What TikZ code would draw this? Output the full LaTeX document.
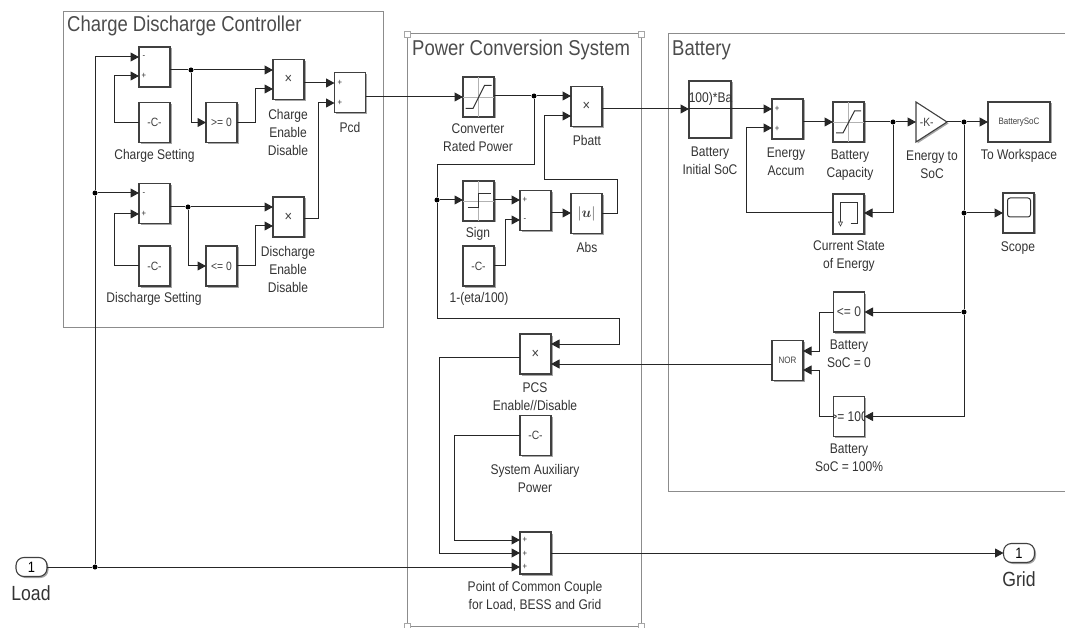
\documentclass[tikz,border=0pt]{standalone}
\usepackage{amsmath}
\usepackage{amssymb}
\usepackage{fontspec}
\setmainfont[FakeStretch=0.86]{Liberation Sans}
\usepackage{tikz}
\usetikzlibrary{arrows.meta,shadows,shapes.geometric}

\tikzset{
  blk/.style={draw=black!75, fill=white, line width=1.1pt, minimum width=31pt, minimum height=40pt, inner sep=0pt, outer sep=0pt, font=\fontsize{12}{14}\selectfont, text=black!75, drop shadow={shadow xshift=1.5pt, shadow yshift=-1.5pt, fill=black, opacity=0.35}},
  tri/.style={blk, isosceles triangle, isosceles triangle stretches, shape border rotate=0, minimum width=40pt, minimum height=31pt},
  grp/.style={draw=black!45, line width=1pt},
  grptitle/.style={anchor=west, inner sep=0pt, text=black!70, font=\fontsize{21.5}{24}\selectfont},
  lbl/.style={align=center, inner sep=0pt, text=black!80, font=\fontsize{14}{18}\selectfont},
  sgn/.style={inner sep=0pt, text=black!80, font=\fontsize{9}{10}\selectfont},
  wire/.style={draw=black!85, line width=1pt},
  sig/.style={wire, -{Triangle[length=8.5pt,width=9pt]}},
  dot/.style={fill=black, circle, inner sep=0pt, minimum size=5pt},
  port/.style={draw=black!75, fill=white, line width=1.1pt, rounded corners=8pt, minimum width=31pt, minimum height=19pt, inner sep=0pt, outer sep=0pt, font=\fontsize{15}{16}\selectfont, drop shadow={shadow xshift=1.5pt, shadow yshift=-1.5pt, fill=black, opacity=0.35}},
  handle/.style={draw=black!35, fill=white, minimum size=6pt, inner sep=0pt},
  icon/.style={draw=black!80, line width=1pt},
  cross/.style={draw=black!30, line width=0.8pt}
}

\begin{document}
\begin{tikzpicture}[x=1pt, y=-1pt]
\useasboundingbox (0,0) rectangle (1065,628);

% subsystem frames
\draw[grp] (63,12) rectangle (383,327);
\draw[grp] (407,34) rectangle (641,626);
\draw[grp] (1065,34) -- (668,34) -- (668,491) -- (1065,491);
\node[handle] at (407,34) (h1) {};
\node[handle] at (641,34) (h2) {};
\node[handle] at (407,626) (h3) {};
\node[handle] at (641,626) (h4) {};
\node[grptitle] at (67,26) (t1) {Charge Discharge Controller};
\node[grptitle] at (412,50) (t2) {Power Conversion System};
\node[grptitle] at (672,50) (t3) {Battery};

% charge discharge controller
\node[blk] at (154.5,67) (sub1) {};
\node[blk] at (154.5,122.5) (cst1) {-C-};
\node[blk] at (221.5,122.5) (ge0) {>= 0};
\node[blk, font=\fontsize{15}{16}\selectfont] at (288.5,79.5) (prod1) {×};
\node[blk] at (154.5,203.5) (sub2) {};
\node[blk] at (154.5,266) (cst2) {-C-};
\node[blk] at (221.5,266) (le0) {<= 0};
\node[blk, font=\fontsize{15}{16}\selectfont] at (288.5,217) (prod2) {×};
\node[blk] at (350,92.5) (pcd) {};

\node[sgn] at (144,57) (s1) {-};
\node[sgn] at (144,76) (s2) {+};
\node[sgn] at (144,194) (s3) {-};
\node[sgn] at (144,214) (s4) {+};
\node[sgn] at (340,83) (s5) {+};
\node[sgn] at (340,103) (s6) {+};

\node[lbl] at (154.5,156) (lcs) {Charge Setting};
\node[lbl] at (288,132) (lce) {Charge\\Enable\\Disable};
\node[lbl] at (350,127) (lpcd) {Pcd};
\node[lbl] at (288,269) (lde) {Discharge\\Enable\\Disable};
\node[lbl] at (154,299) (lds) {Discharge Setting};

% power conversion system
\node[blk] at (478.5,97) (sat1) {};
\draw[cross] (sat1.north) -- (sat1.south);
\draw[cross] (sat1.west) -- (sat1.east);
\draw[icon] (465.5,108.5) -- (473,108.5) -- (484.5,85.5) -- (491.5,85.5);
\node[blk, font=\fontsize{15}{16}\selectfont] at (586.5,106.5) (pbatt) {×};
\node[blk] at (478.5,201) (sign) {};
\draw[cross] (sign.north) -- (sign.south);
\draw[cross] (sign.west) -- (sign.east);
\draw[icon] (467.5,208) -- (478.5,208) -- (478.5,194) -- (490.5,194);
\node[blk] at (535.5,210.5) (sum) {};
\node[blk, font=\fontsize{15}{16}\selectfont] at (586.5,213.5) (abs) {$|\boldsymbol{u}|$};
\node[blk] at (478.5,266) (cst3) {-C-};
\node[blk, font=\fontsize{15}{16}\selectfont] at (535.5,354) (pcs) {×};
\node[blk] at (535.5,435.5) (cst4) {-C-};
\node[blk, minimum height=42pt] at (535.5,553) (pcc) {};

\node[sgn] at (525,200) (s7) {+};
\node[sgn] at (525,220) (s8) {-};
\node[sgn] at (525,540) (s9) {+};
\node[sgn] at (525,554) (s10) {+};
\node[sgn] at (525,567) (s11) {+};

\node[lbl] at (478,138) (lcrp) {Converter\\Rated Power};
\node[lbl] at (587,140) (lpb) {Pbatt};
\node[lbl] at (478,234) (lsg) {Sign};
\node[lbl] at (587,247) (lab) {Abs};
\node[lbl] at (479,299) (leta) {1-(eta/100)};
\node[lbl] at (535,397) (lpcs) {PCS\\Enable//Disable};
\node[lbl] at (535,478) (laux) {System Auxiliary\\Power};
\node[lbl] at (535,596.5) (lpcc) {Point of Common Couple\\for Load, BESS and Grid};

% battery
\node[blk, minimum width=42pt, minimum height=57pt] at (710,109.5) (ic) {};
\node[inner sep=0pt, text=black!80, font=\fontsize{14}{16}\selectfont] at (710.5,99) (ictxt) {100)*Ba};
\node[blk] at (787.5,119) (acc) {};
\node[blk] at (848.5,122) (sat2) {};
\draw[cross] (sat2.north) -- (sat2.south);
\draw[cross] (sat2.west) -- (sat2.east);
\draw[icon] (836,133) -- (843,133) -- (854.5,111) -- (861,111);
\node[tri, anchor=west] at (916,122) (gain) {-K-};
\node[blk, minimum width=62pt] at (1019,122) (tows) {\fontsize{9.3}{11}\selectfont BatterySoC};
\node[blk] at (848.5,214) (mem) {};
\draw[icon] (850.5,224) -- (857.5,224) -- (857.5,203) -- (840.5,203) -- (840.5,222);
\draw[draw=black!80, fill=white, line width=0.6pt] (838.5,222) -- (842.5,222) -- (840.5,226) -- cycle;
\node[blk] at (1018.5,213) (scope) {};
\draw[icon, rounded corners=2.5pt] (1007.5,198) rectangle (1030.5,217);
\node[blk, font=\fontsize{14}{16}\selectfont] at (849,312) (le1) {<= 0};
\node[blk] at (849,416.5) (ge1) {};
\begin{scope}
\clip (ge1.north west) rectangle (ge1.south east);
\node[inner sep=0pt, text=black!80, font=\fontsize{14}{16}\selectfont] at (849,416.5) (getxt) {>= 100};
\end{scope}
\node[blk, font=\fontsize{9.3}{11}\selectfont] at (787.5,360.5) (nor) {NOR};

\node[sgn] at (777,109) (s12) {+};
\node[sgn] at (777,129) (s13) {+};

\node[lbl] at (710,161) (lic) {Battery\\Initial SoC};
\node[lbl] at (786,162) (lacc) {Energy\\Accum};
\node[lbl] at (850,165) (lcap) {Battery\\Capacity};
\node[lbl] at (932,165) (lgain) {Energy to\\SoC};
\node[lbl] at (1019,156) (lws) {To Workspace};
\node[lbl] at (849,256) (lmem) {Current State\\of Energy};
\node[lbl] at (1018,248) (lsc) {Scope};
\node[lbl] at (849,354) (lle) {Battery\\SoC = 0};
\node[lbl] at (849,458) (lge) {Battery\\SoC = 100\%};

% ports
\node[port] at (31.5,567) (load) {1};
\node[port] at (1019,553) (grid) {1};
\node[lbl, font=\fontsize{20.5}{22}\selectfont] at (31,593) (lload) {Load};
\node[lbl, font=\fontsize{20.5}{22}\selectfont] at (1019,579) (lgrid) {Grid};

% junctions
\node[dot] at (95,567) (jload) {};
\node[dot] at (95,193) (jsub) {};
\node[dot] at (191,70) (jc) {};
\node[dot] at (188,207) (jd) {};
\node[dot] at (534,96) (jp) {};
\node[dot] at (437,200) (js) {};
\node[dot] at (893,122) (je) {};
\node[dot] at (964,122) (jw) {};
\node[dot] at (964,213) (jsc) {};
\node[dot] at (964,312) (jsoc) {};

% wires of the controller
\draw[wire] (load) -- (jload);
\draw[sig] (jload) -- (pcc.west |- 0,567);
\draw[sig] (jload) -- (jsub) |- (sub1.west |- 0,57);
\draw[sig] (jsub) -- (sub2.west |- jsub);
\draw[sig] (cst1.west) -- (114,122.5) |- (sub1.west |- 0,76);
\draw[sig] (cst2.west) -- (114,266) |- (sub2.west |- 0,214);
\draw[wire] (sub1.east |- jc) -- (jc);
\draw[sig] (jc) -- (prod1.west |- jc);
\draw[sig] (jc) |- (ge0.west);
\draw[sig] (ge0.east) -- (255,122.5) |- (prod1.west |- 0,89);
\draw[wire] (sub2.east |- jd) -- (jd);
\draw[sig] (jd) -- (prod2.west |- jd);
\draw[sig] (jd) |- (le0.west);
\draw[sig] (le0.east) -- (255,266) |- (prod2.west |- 0,226);
\draw[sig] (prod1.east |- 0,83) -- (pcd.west |- 0,83);
\draw[sig] (prod2.east |- 0,219) -- (318,219) |- (pcd.west |- 0,103);

% wires of the conversion system
\draw[sig] (pcd.east |- sat1) -- (sat1.west);
\draw[wire] (sat1.east |- jp) -- (jp);
\draw[sig] (jp) -- (pbatt.west |- jp);
\draw[wire] (jp) |- (437,165) -- (js);
\draw[sig] (js) -- (sign.west |- js);
\draw[sig] (sign.east |- js) -- (sum.west |- js);
\draw[sig] (cst3.east) -- (505,266) |- (sum.west |- 0,220);
\draw[sig] (sum.east |- 0,213) -- (abs.west |- 0,213);
\draw[sig] (abs.east) -- (617,213.5) |- (544,180) |- (pbatt.west |- 0,116);
\draw[sig] (js) |- (619,318) |- (pcs.east |- 0,344);
\draw[sig] (nor.west |- 0,364) -- (pcs.east |- 0,364);
\draw[sig] (pcs.west |- 0,357) -- (439,357) |- (pcc.west |- 0,553);
\draw[sig] (cst4.west) -- (454,435.5) |- (pcc.west |- 0,540);
\draw[sig] (pcc.east) -- (grid.west);

% wires of the battery
\draw[sig] (pbatt.east |- 0,109) -- (ic.west |- 0,109);
\draw[sig] (ic.west |- 0,109) -- (acc.west |- 0,109);
\draw[sig] (acc.east |- sat2) -- (sat2.west);
\draw[wire] (sat2.east) -- (je);
\draw[sig] (je) -- (gain.west);
\draw[sig] (je) |- (mem.east |- jsc);
\draw[sig] (mem.west |- jsc) -- (746,213) |- (acc.west |- 0,128);
\draw[wire] (gain.apex) -- (jw);
\draw[sig] (jw) -- (tows.west);
\draw[wire] (jw) -- (jsc);
\draw[sig] (jsc) -- (scope.west);
\draw[wire] (jsc) -- (jsoc);
\draw[sig] (jsoc) -- (le1.east);
\draw[sig] (jsoc) |- (ge1.east);
\draw[sig] (le1.west) -- (819,312) |- (nor.east |- 0,351);
\draw[sig] (ge1.west) -- (819,416.5) |- (nor.east |- 0,370);
\end{tikzpicture}
\end{document}
